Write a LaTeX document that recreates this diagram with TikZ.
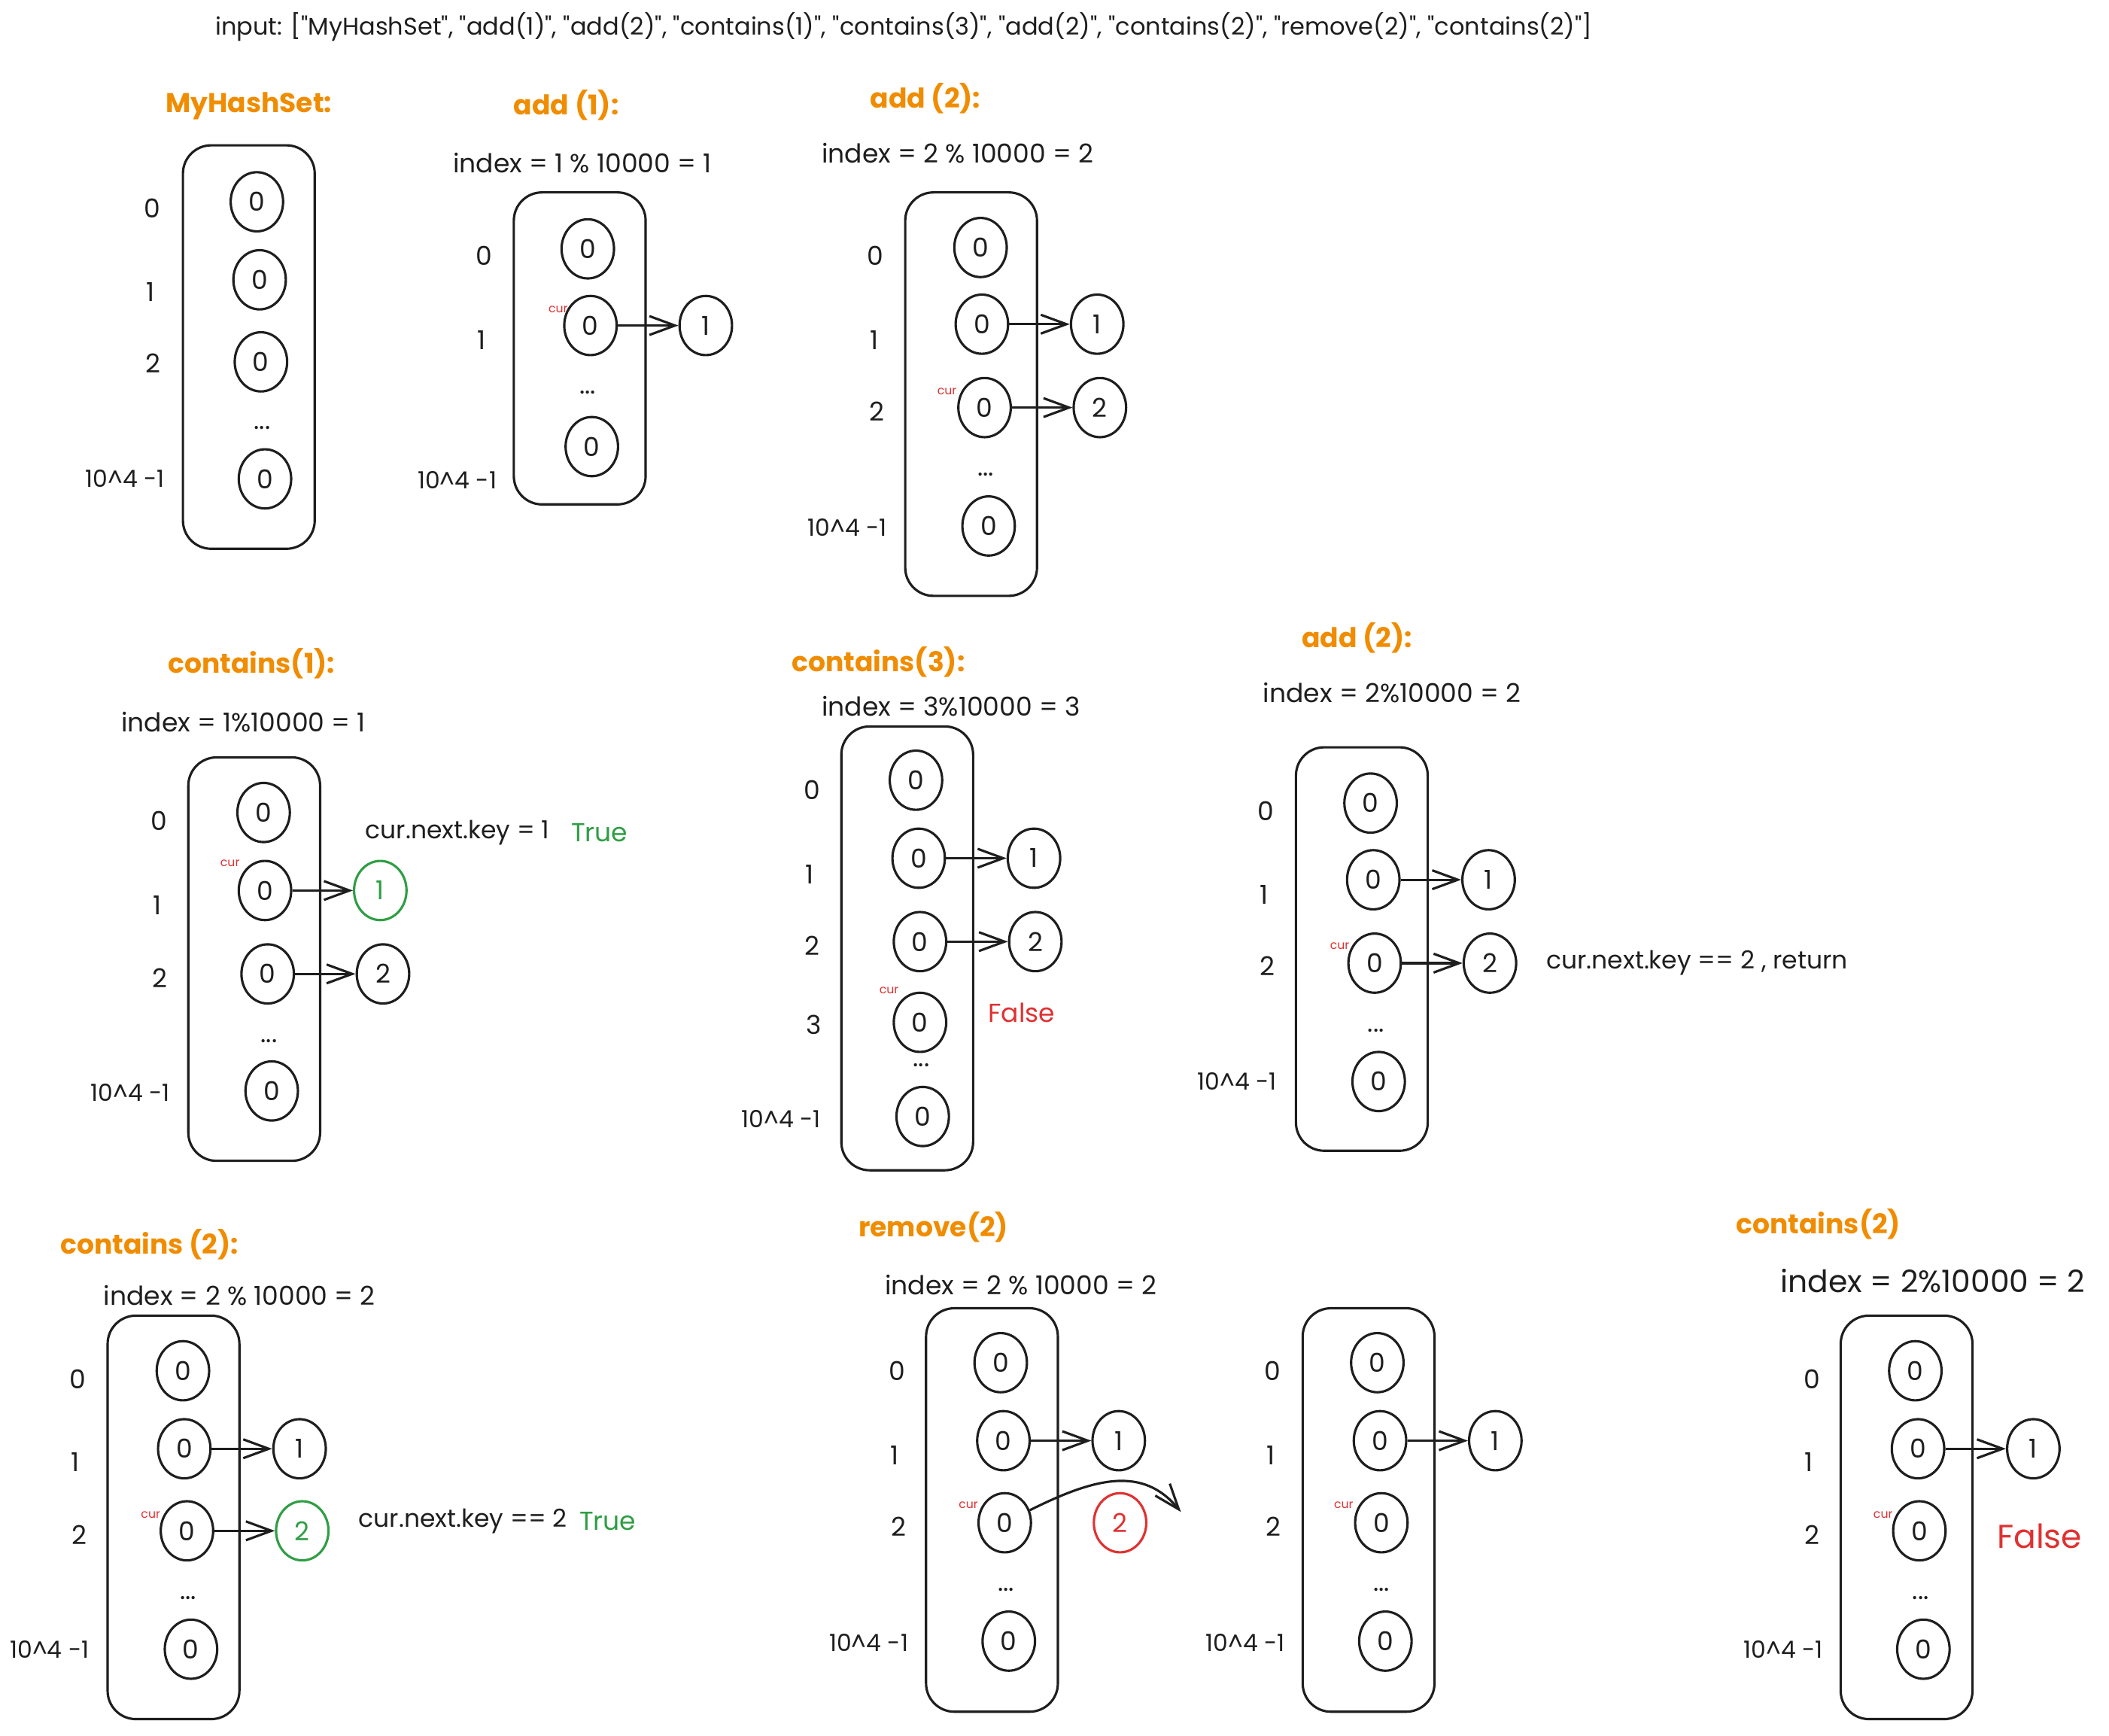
\documentclass[tikz,border=0pt]{standalone}
\usepackage{fontspec}
\setmainfont{Poppins}[Ligatures=TeXOff]
\usetikzlibrary{shapes.geometric,arrows.meta,positioning}

\definecolor{hsorange}{HTML}{F08C00}
\definecolor{hsgreen}{HTML}{2F9E44}
\definecolor{hsred}{HTML}{E03131}
\definecolor{ink}{HTML}{1E1E1E}

\begin{document}
\begin{tikzpicture}[
    x=0.02cm, y=-0.02cm,
    node distance=0.9cm,
    line width=1pt, color=ink,
    every node/.style={font=\fontsize{11}{13}\selectfont},
    optitle/.style={text=hsorange, font=\fontsize{11.5}{14}\selectfont\bfseries},
    bucket/.style={draw, rectangle, rounded corners=0.42cm, minimum width=1.96cm, minimum height=#1},
    bucket/.default=6cm,
    slot/.style={draw, ellipse, minimum width=0.78cm, minimum height=0.88cm, inner sep=0pt},
    found/.style={slot, draw=hsgreen, text=hsgreen},
    dropped/.style={slot, draw=hsred, text=hsred},
    curtag/.style={text=hsred, font=\fontsize{5}{6}\selectfont},
    lastrow/.style={anchor=east, font=\fontsize{10}{12}\selectfont},
    keytext/.style={anchor=west, font=\fontsize{10.5}{13}\selectfont},
    verdict/.style={anchor=west, font=\fontsize{11}{13}\selectfont},
    link/.style={-{Straight Barb[length=3.8mm, width=2.8mm]}},
]
\useasboundingbox (0,0) rectangle (1568,1290);

% operation sequence
\node[font=\fontsize{10.2}{12}\selectfont] (ops) at (672,20) {input: ["MyHashSet", "add(1)", "add(2)", "contains(1)", "contains(3)", "add(2)", "contains(2)", "remove(2)", "contains(2)"]};

% MyHashSet
\node[optitle] (ta) at (185,79) {MyHashSet:};
\node[bucket] (ba) at (185,258) {};
\node[slot] (a0) at (191,150) {0};
\node[slot] (a1) at (193,208) {0};
\node[slot] (a2) at (194,269) {0};
\node (adots) at (195,318) {...};
\node[slot] (aN) at (197,356) {0};
\node (ra0) at (113,155) {0};
\node (ra1) at (112,217) {1};
\node (ra2) at (114,270) {2};
\node[lastrow] (raN) at (129,356) {10\textasciicircum4 -1};

% add(1)
\node[optitle] (tb) at (421,78) {add (1):};
\node (ib) at (433,121) {index = 1 \% 10000 = 1};
\node[bucket=4.64cm] (bb) at (431,259) {};
\node[slot] (b0) at (437,185) {0};
\node[slot] (b1) at (439,242) {0};
\node (bdots) at (437,292) {...};
\node[slot] (bN) at (440,332) {0};
\node[curtag] (cb) at (415,230) {cur};
\node[slot, right=of b1] (b1n) {1};
\node (rb0) at (360,190) {0};
\node (rb1) at (358,253) {1};
\node[lastrow] (rbN) at (376,357) {10\textasciicircum4 -1};
\draw[link] (b1) -- (b1n);

% add(2)
\node[optitle] (tc) at (688,73) {add (2):};
\node (ic) at (712,114) {index = 2 \% 10000 = 2};
\node[bucket] (bc) at (722,293) {};
\node[slot] (c0) at (729,184) {0};
\node[slot] (c1) at (730,241) {0};
\node[slot] (c2) at (732,303) {0};
\node (cdots) at (733,353) {...};
\node[slot] (cN) at (735,391) {0};
\node[curtag] (cc) at (704,291) {cur};
\node[slot, right=of c1] (c1n) {1};
\node[slot, right=of c2] (c2n) {2};
\node (rc0) at (651,190) {0};
\node (rc1) at (650,253) {1};
\node (rc2) at (652,306) {2};
\node[lastrow] (rcN) at (666,392) {10\textasciicircum4 -1};
\draw[link] (c1) -- (c1n);
\draw[link] (c2) -- (c2n);

% contains(1)
\node[optitle] (td) at (187,493) {contains(1):};
\node (id) at (181,537) {index = 1\%10000 = 1};
\node[bucket] (bd) at (189,713) {};
\node[slot] (d0) at (196,604) {0};
\node[slot] (d1) at (197,662) {0};
\node[slot] (d2) at (199,724) {0};
\node (ddots) at (200,774) {...};
\node[slot] (dN) at (202,811) {0};
\node[curtag] (cd) at (171,642) {cur};
\node[found, right=of d1] (d1n) {1};
\node[slot, right=of d2] (d2n) {2};
\node[keytext] (kd) at (265,619) {cur.next.key = 1};
\node[verdict, text=hsgreen] (vd) at (418,619) {True};
\node (rd0) at (118,610) {0};
\node (rd1) at (117,673) {1};
\node (rd2) at (119,727) {2};
\node[lastrow] (rdN) at (133,812) {10\textasciicircum4 -1};
\draw[link] (d1) -- (d1n);
\draw[link] (d2) -- (d2n);

% contains(3)
\node[optitle] (te) at (653,492) {contains(3):};
\node (ie) at (707,525) {index = 3\%10000 = 3};
\node[bucket=6.6cm] (be) at (674.5,705) {};
\node[slot] (e0) at (681,580) {0};
\node[slot] (e1) at (683,638) {0};
\node[slot] (e2) at (684,700) {0};
\node[slot] (e3) at (684,760) {0};
\node (edots) at (685,792) {...};
\node[slot] (eN) at (686,830) {0};
\node[curtag] (ce) at (661,736) {cur};
\node[slot, right=of e1] (e1n) {1};
\node[slot, right=of e2] (e2n) {2};
\node[verdict, text=hsred] (ve) at (728,753) {False};
\node (re0) at (604,587) {0};
\node (re1) at (602,650) {1};
\node (re2) at (604,703) {2};
\node (re3) at (605,762) {3};
\node[lastrow] (reN) at (617,832) {10\textasciicircum4 -1};
\draw[link] (e1) -- (e1n);
\draw[link] (e2) -- (e2n);

% add(2) again
\node[optitle] (tf) at (1009,474) {add (2):};
\node (if) at (1035,515) {index = 2\%10000 = 2};
\node[bucket] (bf) at (1012.5,705.5) {};
\node[slot] (f0) at (1019,597) {0};
\node[slot] (f1) at (1021,654) {0};
\node[slot] (f2) at (1022,716) {0};
\node (fdots) at (1023,766) {...};
\node[slot] (fN) at (1025,804) {0};
\node[curtag] (cf) at (996,703) {cur};
\node[slot, right=of f1] (f1n) {1};
\node[slot, right=of f2] (f2n) {2};
\node[keytext] (kf) at (1143,716) {cur.next.key == 2 , return};
\node (rf0) at (941,603) {0};
\node (rf1) at (940,665) {1};
\node (rf2) at (942,718) {2};
\node[lastrow] (rfN) at (956,804) {10\textasciicircum4 -1};
\draw[link] (f1) -- (f1n);
\draw[link] (f2) -- (f2n);

% contains (2)
\node[optitle] (tg) at (111,925) {contains (2):};
\node (ig) at (178,963) {index = 2 \% 10000 = 2};
\node[bucket] (bg) at (129,1128) {};
\node[slot] (g0) at (136,1019) {0};
\node[slot] (g1) at (137,1077) {0};
\node[slot] (g2) at (139,1138) {0};
\node (gdots) at (140,1188) {...};
\node[slot] (gN) at (142,1226) {0};
\node[curtag] (cg) at (112,1126) {cur};
\node[slot, right=of g1] (g1n) {1};
\node[found, right=of g2] (g2n) {2};
\node[keytext] (kg) at (260,1131) {cur.next.key == 2};
\node[verdict, text=hsgreen] (vg) at (424,1131) {True};
\node (rg0) at (58,1025) {0};
\node (rg1) at (56,1087) {1};
\node (rg2) at (59,1141) {2};
\node[lastrow] (rgN) at (73,1226) {10\textasciicircum4 -1};
\draw[link] (g1) -- (g1n);
\draw[link] (g2) -- (g2n);

% remove(2)
\node[optitle] (th) at (694,912) {remove(2)};
\node (ih) at (759,955) {index = 2 \% 10000 = 2};
\node[bucket] (bh) at (737.5,1122.5) {};
\node[slot] (h0) at (744,1013) {0};
\node[slot] (h1) at (746,1071) {0};
\node[slot] (h2) at (747,1132) {0};
\node (hdots) at (748,1182) {...};
\node[slot] (hN) at (750,1220) {0};
\node[curtag] (ch) at (720,1119) {cur};
\node[slot, right=of h1] (h1n) {1};
\node[dropped, right=of h2] (h2n) {2};
\coordinate (hend) at (878,1124);
\node (rh0) at (667,1019) {0};
\node (rh1) at (665,1082) {1};
\node (rh2) at (668,1135) {2};
\node[lastrow] (rhN) at (682,1221) {10\textasciicircum4 -1};
\draw[link] (h1) -- (h1n);
\draw[link] (h2) .. controls (815,1098) and (850,1090) .. (hend);

% after remove
\node[bucket] (bi) at (1017.5,1122.5) {};
\node[slot] (i0) at (1024,1013) {0};
\node[slot] (i1) at (1026,1071) {0};
\node[slot] (i2) at (1027,1132) {0};
\node (idots) at (1027,1182) {...};
\node[slot] (iN) at (1030,1220) {0};
\node[curtag] (ci) at (999,1119) {cur};
\node[slot, right=of i1] (i1n) {1};
\node (ri0) at (946,1019) {0};
\node (ri1) at (945,1082) {1};
\node (ri2) at (947,1135) {2};
\node[lastrow] (riN) at (962,1221) {10\textasciicircum4 -1};
\draw[link] (i1) -- (i1n);

% contains(2) again
\node[optitle] (tj) at (1352,910) {contains(2)};
\node[font=\fontsize{13}{15}\selectfont] (ij) at (1437,952) {index = 2\%10000 = 2};
\node[bucket] (bj) at (1417.5,1128) {};
\node[slot] (j0) at (1424,1019) {0};
\node[slot] (j1) at (1426,1077) {0};
\node[slot] (j2) at (1427,1138) {0};
\node (jdots) at (1428,1188) {...};
\node[slot] (jN) at (1430,1226) {0};
\node[curtag] (cj) at (1400,1126) {cur};
\node[slot, right=of j1] (j1n) {1};
\node[verdict, text=hsred, font=\fontsize{14}{16}\selectfont] (vj) at (1478,1142) {False};
\node (rj0) at (1347,1025) {0};
\node (rj1) at (1345,1087) {1};
\node (rj2) at (1347,1141) {2};
\node[lastrow] (rjN) at (1362,1226) {10\textasciicircum4 -1};
\draw[link] (j1) -- (j1n);

\end{tikzpicture}
\end{document}
